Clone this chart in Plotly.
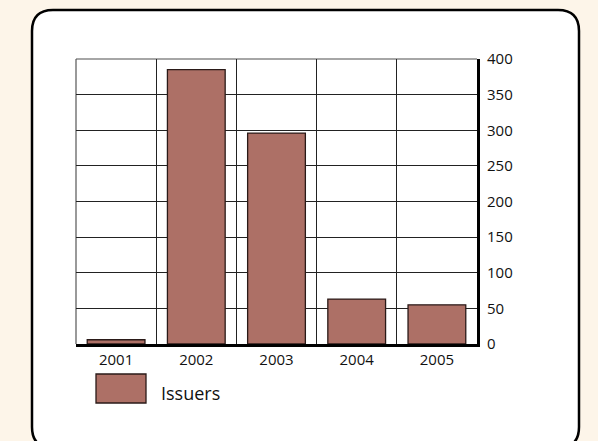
import plotly.graph_objects as go

years = ["2001", "2002", "2003", "2004", "2005"]
issuers = [6, 385, 296, 63, 55]
y_ticks = [0, 50, 100, 150, 200, 250, 300, 350, 400]
series_name = "Issuers"

BAR = "#ad7066"
FONT = "Open Sans"

# plot area in pixels
L, R, T, B = 76, 477, 59, 344
W, H = R - L, B - T


def px(x):
    return (x - L) / W


def py(y):
    return (B - y) / H


def rounded(x0, y0, x1, y1, r):
    rx, ry = r / W, r / H
    X0, X1 = px(x0), px(x1)
    Yt, Yb = py(y0), py(y1)
    return (
        f"M {X0+rx},{Yt} L {X1-rx},{Yt} Q {X1},{Yt} {X1},{Yt-ry} "
        f"L {X1},{Yb+ry} Q {X1},{Yb} {X1-rx},{Yb} "
        f"L {X0+rx},{Yb} Q {X0},{Yb} {X0},{Yb+ry} "
        f"L {X0},{Yt-ry} Q {X0},{Yt} {X0+rx},{Yt} Z"
    )


fig = go.Figure()
fig.add_trace(go.Bar(
    x=years, y=issuers, name=series_name, width=0.72,
    marker=dict(color=BAR, line=dict(color="#2a1a18", width=1.3)),
    showlegend=False,
))

fig.update_layout(
    width=598, height=441,
    margin=dict(l=L, r=598 - R, t=T, b=441 - B),
    paper_bgcolor="#fdf5e9",
    plot_bgcolor="white",
    font=dict(family=FONT, size=15, color="#111"),
    bargap=0.28,
    xaxis=dict(
        type="category", tickson="boundaries", ticks="",
        showgrid=True, gridcolor="#222", gridwidth=1,
        showline=True, linecolor="black", linewidth=3,
        tickfont=dict(family=FONT, size=15),
        fixedrange=True,
    ),
    yaxis=dict(
        side="right", range=[0, 400], tickvals=y_ticks, ticks="",
        showgrid=True, gridcolor="#222", gridwidth=1,
        showline=True, linecolor="black", linewidth=3,
        tickfont=dict(family=FONT, size=15),
        ticklabelstandoff=4, zeroline=False,
        fixedrange=True,
    ),
    shapes=[
        dict(type="path", xref="paper", yref="paper", layer="below",
             path=rounded(32, 10, 579, 448, 21),
             fillcolor="white", line=dict(color="black", width=2.5)),
        dict(type="line", xref="paper", yref="paper", layer="below",
             x0=0, x1=1, y0=1, y1=1, line=dict(color="#888", width=1.5)),
        dict(type="line", xref="paper", yref="paper", layer="below",
             x0=0, x1=0, y0=0, y1=1, line=dict(color="#555", width=1.2)),
        dict(type="rect", xref="paper", yref="paper",
             x0=px(96), x1=px(146), y0=py(374), y1=py(403),
             fillcolor=BAR, line=dict(color="#2a1a18", width=1.3)),
    ],
    annotations=[
        dict(xref="paper", yref="paper", x=px(159), y=py(393),
             text=series_name, showarrow=False, xanchor="left", yanchor="middle",
             font=dict(family=FONT, size=18, color="#111")),
    ],
)

fig.write_html("out.html")
